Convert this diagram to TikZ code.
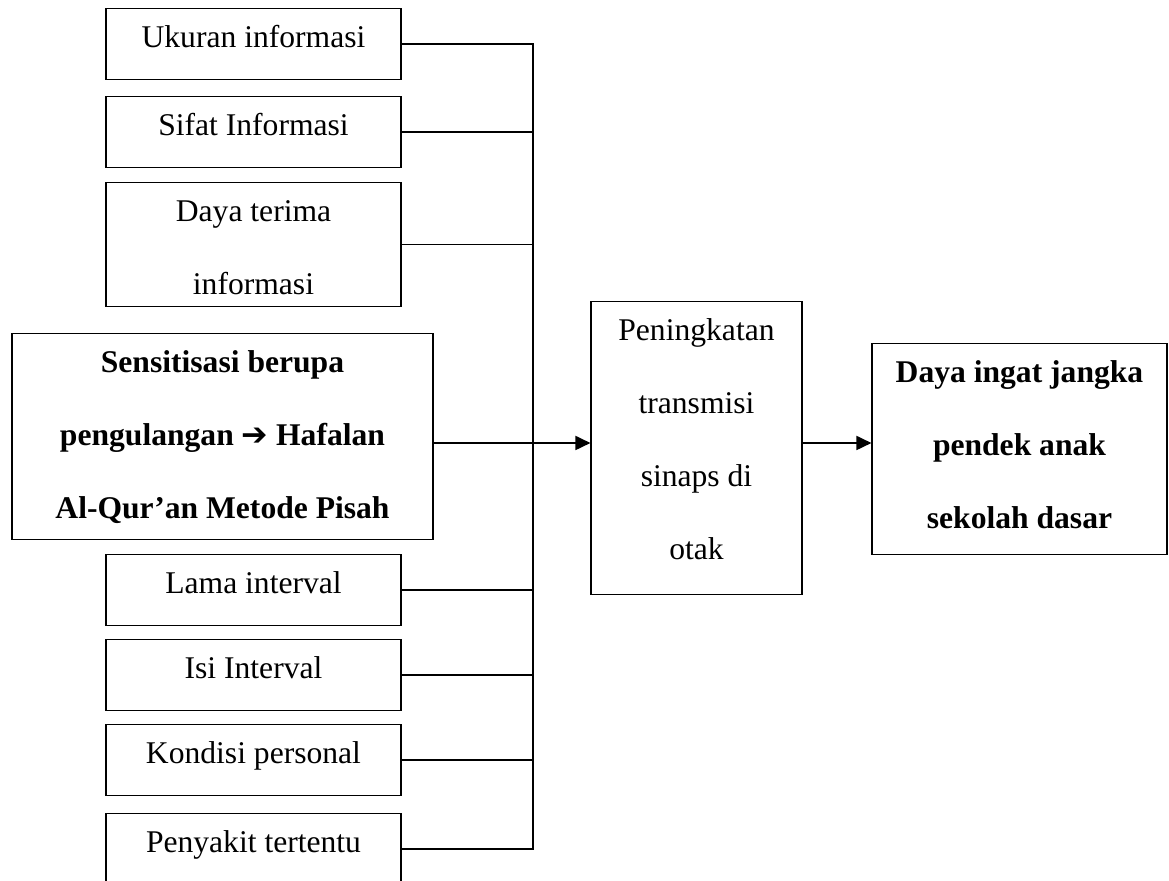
\documentclass[tikz,border=0pt]{standalone}
\usepackage{fontspec}
\setmainfont{Liberation Serif}
\newfontfamily\arrowfont{DejaVu Sans}
\usetikzlibrary{arrows.meta}

\begin{document}
\begin{tikzpicture}[x=0.5pt, y=-0.5pt,
  box/.style={draw, line width=0.55pt, inner sep=0pt, anchor=north, align=center,
    text height=19.5pt, font=\fontsize{15.8}{36.5}\selectfont},
  factor/.style={box, minimum width=147.5pt},
  bus/.style={line width=0.55pt},
  flowarrow/.style={line width=0.9pt, -{Triangle[length=7.5pt, width=7pt]}}]
\useasboundingbox (0,0) rectangle (1169,881);
% factors on the left
\node[factor, text depth=16pt] (ukuran) at (253.5,8) {Ukuran informasi};
\node[factor, text depth=16pt] (sifat) at (253.5,96) {Sifat Informasi};
\node[factor, text height=56pt, text depth=6pt] (daya) at (253.5,182) {Daya terima\\informasi};
\node[box, minimum width=210.5pt, text height=92.5pt, text depth=10.5pt, font=\fontsize{15.8}{36.5}\selectfont\bfseries] (hafalan) at (222.5,333)
  {Sensitisasi berupa\\pengulangan {\arrowfont ➔} Hafalan\\Al-Qur’an Metode Pisah};
\node[factor, text depth=16pt] (lama) at (253.5,554) {Lama interval};
\node[factor, text depth=16pt] (isi) at (253.5,639) {Isi Interval};
\node[factor, text depth=16pt] (kondisi) at (253.5,724) {Kondisi personal};
\node[factor, text depth=16pt] (penyakit) at (253.5,813) {Penyakit tertentu};
% process and result
\node[box, minimum width=105.5pt, text height=129pt, text depth=17.5pt] (sinaps) at (696.5,301)
  {Peningkatan\\transmisi\\sinaps di\\otak};
\node[box, minimum width=147.5pt, text height=92.5pt, text depth=13pt, font=\fontsize{15.8}{36.5}\selectfont\bfseries] (dayaingat) at (1019.5,343)
  {Daya ingat jangka\\pendek anak\\sekolah dasar};
% connectors
\coordinate (junction) at (533,443);
\draw[bus] (ukuran.east) -- (ukuran.east -| junction) -- (penyakit.east -| junction) -- (penyakit.east);
\foreach \f in {sifat,daya,lama,isi,kondisi}
  \draw[bus] (\f.east) -- (\f.east -| junction);
\draw[flowarrow] (hafalan.east |- junction) -- (sinaps.west |- junction);
\draw[flowarrow] (sinaps.east |- junction) -- (dayaingat.west |- junction);
\end{tikzpicture}
\end{document}
